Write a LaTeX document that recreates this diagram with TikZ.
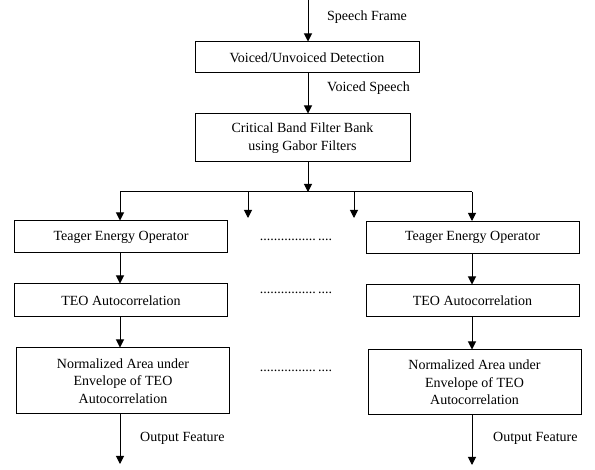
\documentclass[tikz,border=0pt]{standalone}
\usepackage{fontspec}
\setmainfont{Liberation Serif}
\usepackage{tikz}
\usetikzlibrary{arrows.meta}
\usetikzlibrary{shapes,positioning,calc}
\tikzstyle{box} = [rectangle, minimum width=213pt, minimum height=32pt, text centered, draw=black, line width=1pt, inner sep=0pt, align=center]
\tikzstyle{lbl} = [anchor=west, inner sep=0pt]
\tikzstyle{arr} = [line width=1pt, -{Triangle[length=8pt,width=8pt]}]

\begin{document}
\begin{tikzpicture}[x=1pt, y=-1pt, font=\fontsize{14}{17.5}\selectfont]
				\useasboundingbox (0,0) rectangle (595,470);
				\coordinate (in) at (308,0);
				\node[box, minimum width=224pt, minimum height=31pt] (vud) at (307,57.5) {Voiced/Unvoiced Detection};
				\node[box, minimum width=215pt, minimum height=48pt] (cbf) at (302.5,138) {Critical Band Filter Bank\\using Gabor Filters};
				
				\node[box] (teoL) at (121,237) {Teager Energy Operator};
				\node[box] (teoR) at (472.5,237.5) {Teager Energy Operator};
				\node[box, minimum height=33pt] (acL) at (121,300.5) {TEO Autocorrelation};
				\node[box] (acR) at (472.5,301) {TEO Autocorrelation};
				\node[box, minimum height=66pt] (nrmL) at (123,381) {Normalized Area under\\Envelope of TEO\\Autocorrelation};
				\node[box, minimum height=65pt] (nrmR) at (474.5,382.5) {Normalized Area under\\Envelope of TEO\\Autocorrelation};
				
				% splitter
				\coordinate (bus) at (308,192);
				\coordinate (busL) at (120,192);
				\coordinate (busR) at (472,192);
				\coordinate (stub1) at (248,218);
				\coordinate (stub2) at (354,218);
				\coordinate (outL) at (120,464);
				\coordinate (outR) at (472,465);
				
				\draw[arr] (in) -- (in |- vud.north);
				\draw[arr] (vud.south -| in) -- (cbf.north -| in);
				\draw[arr] (cbf.south -| in) -- (bus);
				\draw[line width=1pt] (busL) -- (busR);
				\draw[arr] (busL) -- (busL |- teoL.north);
				\draw[arr] (busR) -- (busR |- teoR.north);
				\draw[arr] (stub1 |- bus) -- (stub1);
				\draw[arr] (stub2 |- bus) -- (stub2);
				
				\draw[arr] (teoL.south -| busL) -- (acL.north -| busL);
				\draw[arr] (acL.south -| busL) -- (nrmL.north -| busL);
				\draw[arr] (nrmL.south -| busL) -- (outL);
				\draw[arr] (teoR.south -| busR) -- (acR.north -| busR);
				\draw[arr] (acR.south -| busR) -- (nrmR.north -| busR);
				\draw[arr] (nrmR.south -| busR) -- (outR);
				
				\node[lbl] (lblframe) at (327,17) {Speech Frame};
				\node[lbl] (lblvoiced) at (327,88) {Voiced Speech};
				\node[lbl] (lbloutL) at (140,438) {Output Feature};
				\node[lbl] (lbloutR) at (493,438) {Output Feature};
				
				\node (dots1) at (296,240) {................\,....};
				\node (dots2) at (296,293) {................\,....};
				\node (dots3) at (296,371) {................\,....};
			\end{tikzpicture}
\end{document}
